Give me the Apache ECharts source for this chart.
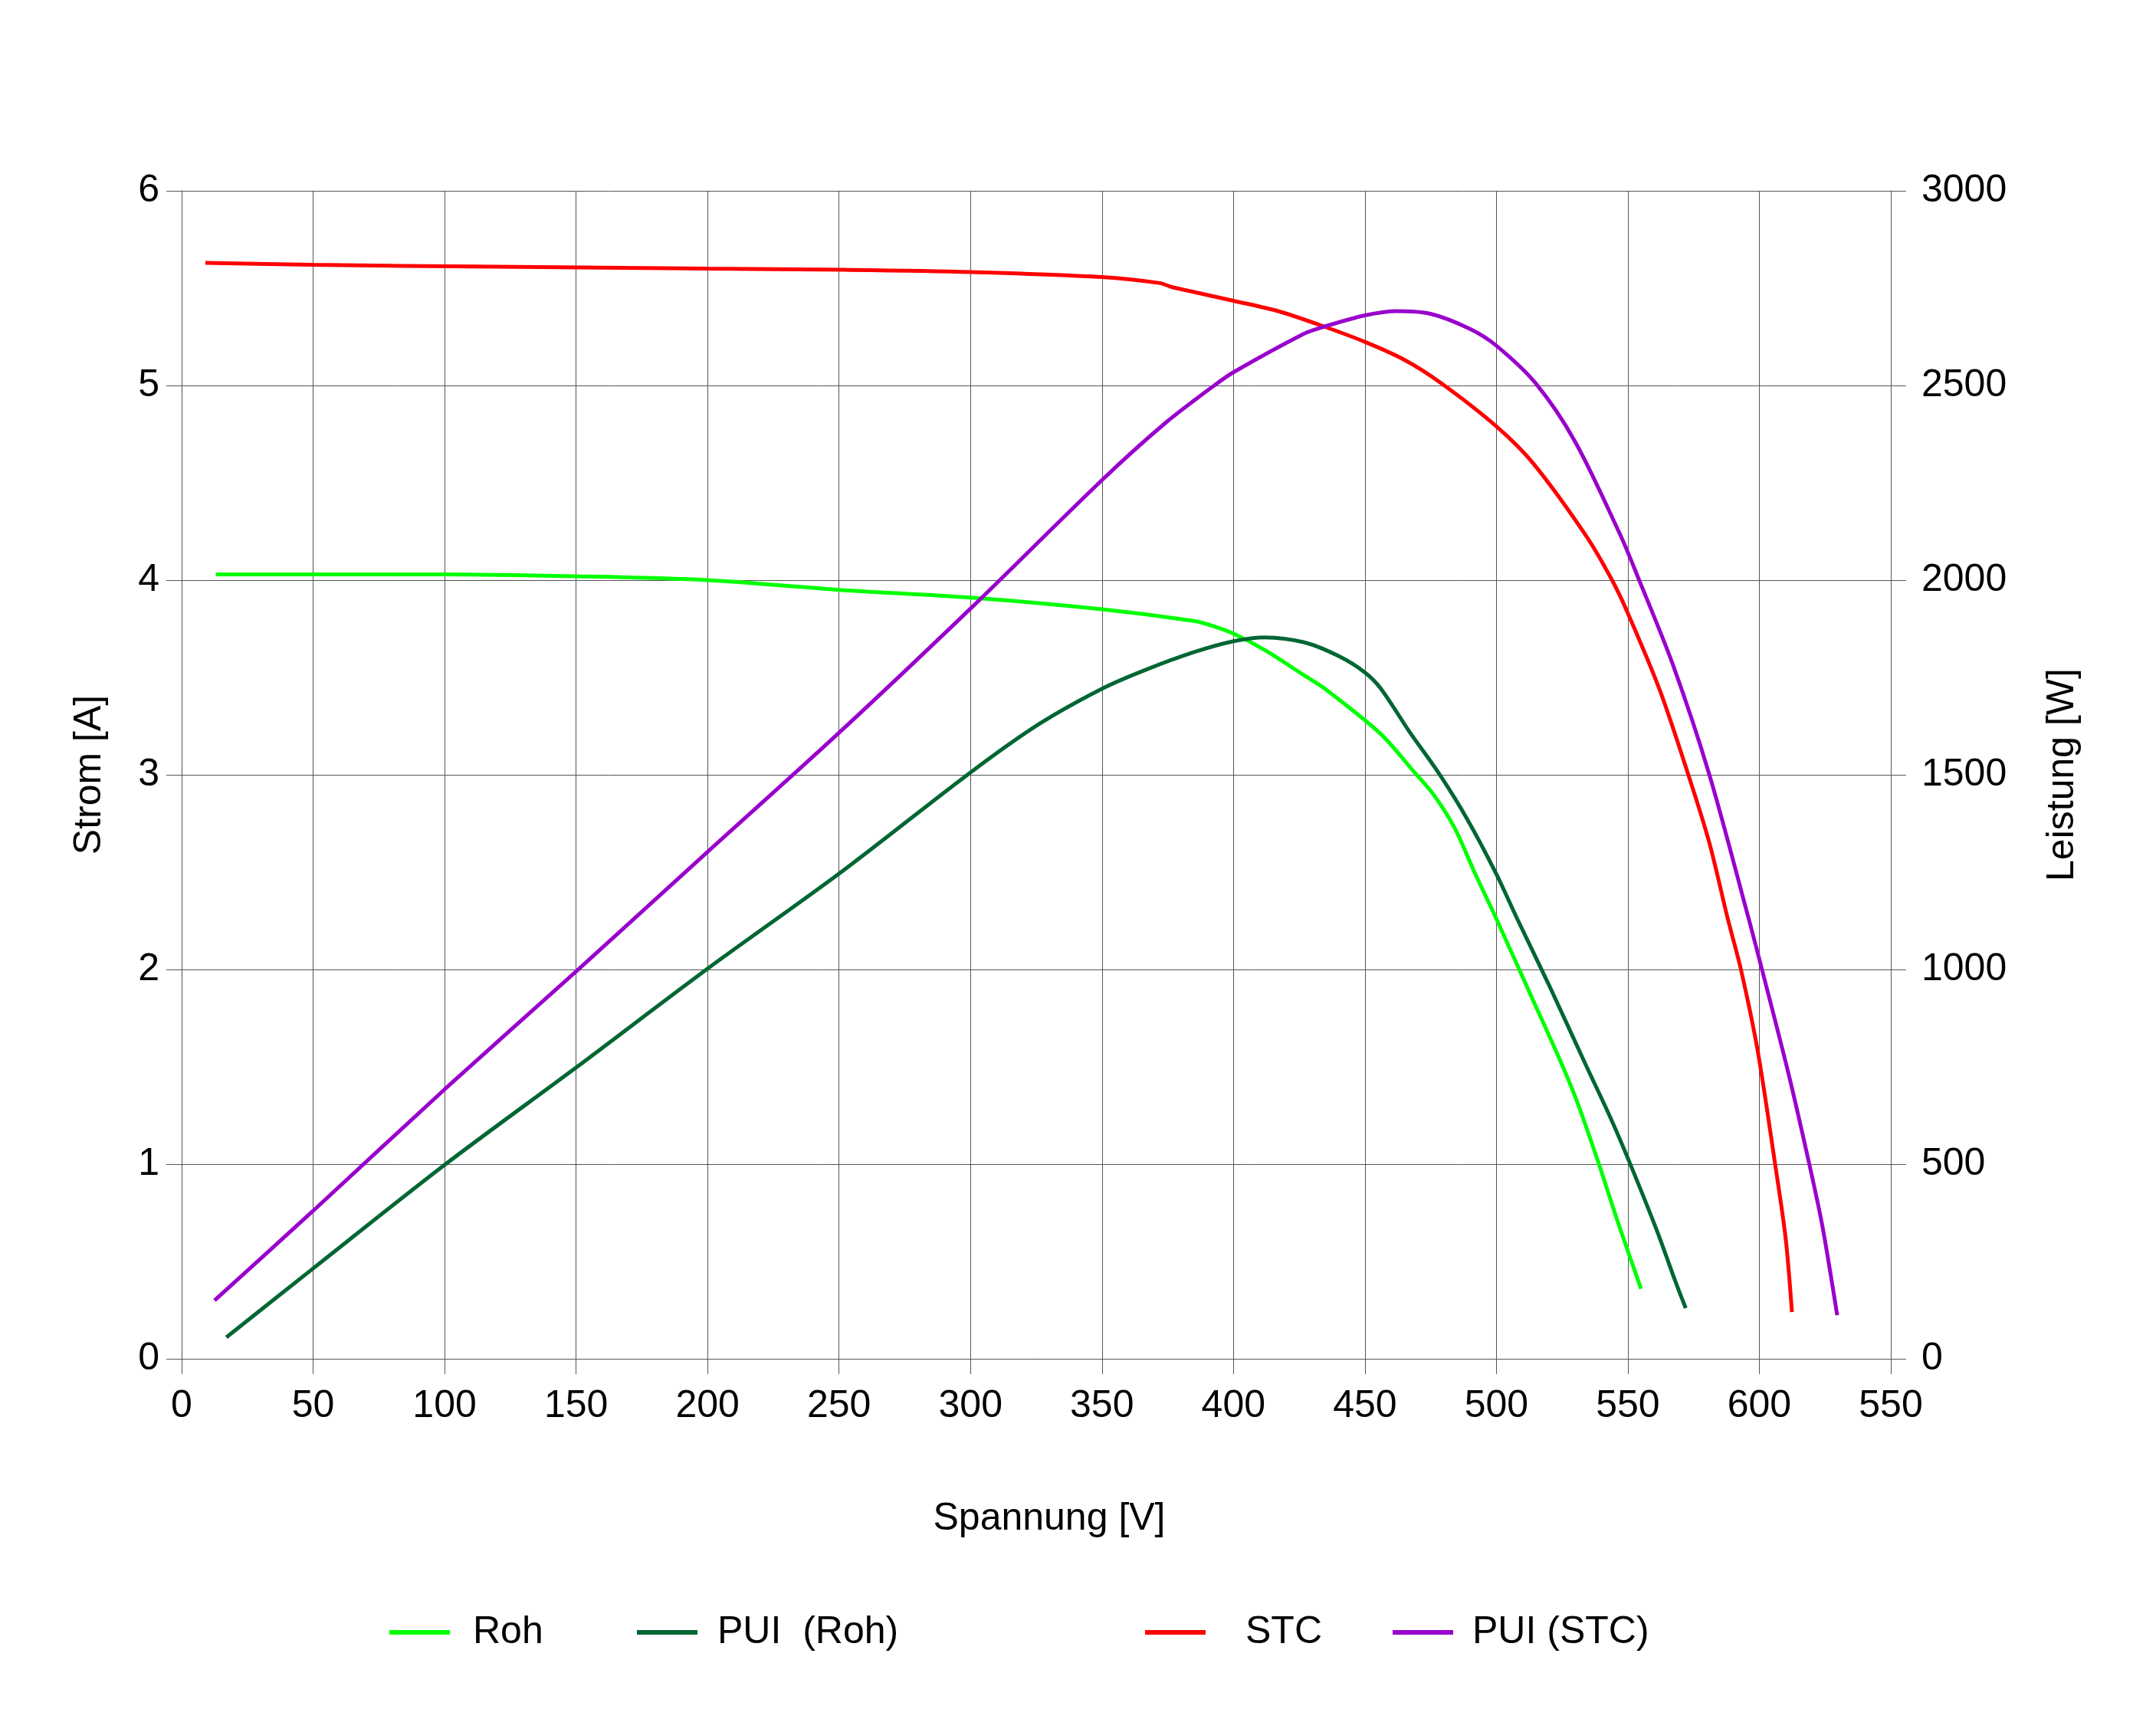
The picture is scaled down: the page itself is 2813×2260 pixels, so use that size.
<!DOCTYPE html>
<html>
<head>
<meta charset="utf-8">
<script src="https://cdn.jsdelivr.net/npm/echarts@6/dist/echarts.min.js"></script>
<style>
html,body{margin:0;padding:0;background:#fff;}
#chart{width:2813px;height:2260px;}
</style>
</head>
<body>
<div id="chart"></div>
<script>
// X tick labels (as printed in the original, incl. the last "550")
const xTickLabels = ['0','50','100','150','200','250','300','350','400','450','500','550','600','550'];

// Roh: current [A] vs voltage [V]
const rohV = [13, 50, 100, 150, 200, 250, 300, 350, 385, 392, 400, 412, 427, 435, 456, 469, 476, 484, 492, 500, 514, 524, 531, 539, 546, 555];
const rohI = [4.03, 4.03, 4.03, 4.02, 4.00, 3.95, 3.91, 3.85, 3.79, 3.765, 3.725, 3.64, 3.51, 3.44, 3.21, 3.01, 2.90, 2.73, 2.49, 2.26, 1.84, 1.54, 1.31, 1.00, 0.71, 0.36];

// PUI (Roh): power [W] vs voltage [V]
const pRohV = [17, 50, 100, 150, 200, 250, 300, 326, 350, 366, 385, 400, 412, 427, 440, 450, 456, 467, 478, 489, 500, 508, 520, 534, 543, 550, 561, 568, 572];
const pRohP = [55, 232, 498, 748, 1002, 1246, 1506, 1630, 1721, 1768, 1815, 1843, 1853, 1840, 1805, 1763, 1722, 1610, 1505, 1385, 1245, 1129, 960, 755, 625, 515, 330, 200, 130];

// STC: current [A] vs voltage [V]
const stcV = [9, 50, 120, 200, 252, 300, 350, 372, 376.5, 383, 400, 417, 433, 450, 465, 479, 500, 514, 534, 544, 550, 562, 573, 581, 588, 593, 599.4, 606, 610, 612.4];
const stcI = [5.63, 5.62, 5.61, 5.60, 5.594, 5.583, 5.557, 5.526, 5.506, 5.486, 5.435, 5.382, 5.31, 5.224, 5.132, 5.012, 4.79, 4.60, 4.23, 4.00, 3.83, 3.44, 3.00, 2.65, 2.26, 2.00, 1.58, 1.00, 0.62, 0.24];

// PUI (STC): power [W] vs voltage [V]
const pStcV = [12.5, 50, 100, 150, 200, 250, 300, 350, 374, 392.5, 400, 426.5, 433, 450, 462, 475, 490, 500, 515, 530, 547, 554, 567, 581, 596, 601, 611, 619, 624, 629.6];
const pStcP = [150, 380, 692, 995, 1302, 1608, 1927, 2257, 2403, 2499, 2534, 2632, 2648, 2680, 2691, 2684, 2645, 2602, 2505, 2355, 2118, 2005, 1785, 1500, 1129, 1000, 735, 500, 340, 112];

const zip = (a, b) => a.map((v, i) => [v, b[i]]);

const FONT = 'Liberation Sans, Arial, sans-serif';
const GRID_COLOR = '#555';

const chart = echarts.init(document.getElementById('chart'), null, {renderer: 'canvas'});

function legendItem(name, left, textPad) {
  return {
    data: [name],
    left: left,
    top: 2105,
    padding: 0,
    icon: 'rect',
    itemWidth: 79,
    itemHeight: 6,
    textStyle: {fontSize: 50, fontFamily: FONT, color: '#000', padding: textPad}
  };
}

function lineSeries(name, axis, data, color) {
  return {
    name: name, type: 'line', yAxisIndex: axis, data: data,
    smooth: 0.3, showSymbol: false, symbol: 'none',
    lineStyle: {color: color, width: 5}, itemStyle: {color: color}
  };
}

const option = {
  backgroundColor: '#fff',
  animation: false,
  grid: {left: 237, right: 346, top: 249, bottom: 487, containLabel: false},
  legend: [
    legendItem('Roh', 508, [0, 0, 0, 25]),
    legendItem('PUI  (Roh)', 831, [0, 0, 0, 21]),
    legendItem('STC', 1494, [18, 0, 0, 47]),
    legendItem('PUI (STC)', 1817, [0, 0, 0, 20])
  ],
  xAxis: {
    type: 'value',
    min: 0, max: 650, interval: 50,
    name: 'Spannung [V]',
    nameLocation: 'middle',
    nameGap: 184,
    nameTextStyle: {fontSize: 50, fontFamily: FONT, color: '#000', padding: [0, 0, 0, 34]},
    axisLine: {show: true, lineStyle: {color: GRID_COLOR, width: 1}},
    axisTick: {show: true, length: 20, inside: false, lineStyle: {color: GRID_COLOR, width: 1}},
    axisLabel: {
      fontSize: 50, fontFamily: FONT, color: '#000', margin: 37,
      formatter: (v) => xTickLabels[Math.round(v / 50)]
    },
    splitLine: {show: true, lineStyle: {color: GRID_COLOR, width: 1}}
  },
  yAxis: [
    {
      type: 'value',
      min: 0, max: 6, interval: 1,
      position: 'left',
      name: 'Strom [A]',
      nameLocation: 'middle',
      nameGap: 95,
      nameRotate: 90,
      nameTextStyle: {fontSize: 50, fontFamily: FONT, color: '#000'},
      axisLine: {show: true, lineStyle: {color: GRID_COLOR, width: 1}},
      axisTick: {show: true, length: 20, lineStyle: {color: GRID_COLOR, width: 1}},
      axisLabel: {fontSize: 50, fontFamily: FONT, color: '#000', margin: 29, formatter: (v) => String(v)},
      splitLine: {show: true, lineStyle: {color: GRID_COLOR, width: 1}}
    },
    {
      type: 'value',
      min: 0, max: 3000, interval: 500,
      position: 'right',
      name: 'Leistung [W]',
      nameLocation: 'middle',
      nameGap: 199,
      nameRotate: 90,
      nameTextStyle: {fontSize: 50, fontFamily: FONT, color: '#000'},
      axisLine: {show: true, lineStyle: {color: GRID_COLOR, width: 1}},
      axisTick: {show: true, length: 20, lineStyle: {color: GRID_COLOR, width: 1}},
      axisLabel: {fontSize: 50, fontFamily: FONT, color: '#000', margin: 40, formatter: (v) => String(v)},
      splitLine: {show: false}
    }
  ],
  series: [
    lineSeries('Roh', 0, zip(rohV, rohI), '#00ff00'),
    lineSeries('PUI  (Roh)', 1, zip(pRohV, pRohP), '#006633'),
    lineSeries('STC', 0, zip(stcV, stcI), '#ff0000'),
    lineSeries('PUI (STC)', 1, zip(pStcV, pStcP), '#9900cc')
  ]
};

chart.setOption(option);
</script>
</body>
</html>
